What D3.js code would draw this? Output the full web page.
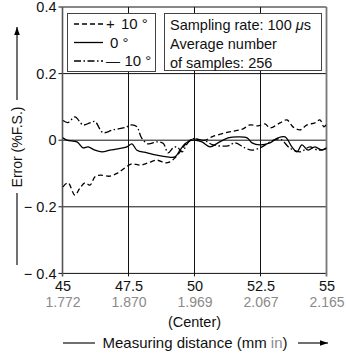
<!DOCTYPE html>
<html>
<head>
<meta charset="utf-8">
<script src="https://cdn.jsdelivr.net/npm/d3@7"></script>
<style>
  html, body { margin: 0; padding: 0; background: #fff; }
  svg { display: block; font-family: "Liberation Sans", Arial, sans-serif; }
</style>
</head>
<body>
<svg id="chart" width="346" height="354"></svg>
<script>
// x positions in mm, error in %F.S.
const xTicks = [45, 47.5, 50, 52.5, 55];
const xTickLabels = ["45", "47.5", "50", "52.5", "55"];
const xInchLabels = ["1.772", "1.870", "1.969", "2.067", "2.165"];
const yTicks = [0.4, 0.2, 0, -0.2, -0.4];
const yTickLabels = ["0.4", "0.2", "0", "\u2212 0.2", "\u2212 0.4"];

const plus10 = [
  [45.02, -0.14], [45.21, -0.128], [45.47, -0.165], [45.66, -0.144], [45.85, -0.128],
  [46.04, -0.135], [46.23, -0.11], [46.42, -0.105], [46.8, -0.108], [47.1, -0.098],
  [47.37, -0.083], [47.63, -0.071], [47.94, -0.075], [48.24, -0.068], [48.58, -0.06],
  [48.89, -0.068], [49.07, -0.065], [49.26, -0.053], [49.45, -0.035], [49.64, -0.014],
  [49.83, 0.0], [50.02, 0.004], [50.4, 0.0], [50.66, 0.01], [51.16, 0.022],
  [51.53, 0.028], [51.84, 0.034], [52.1, 0.046], [52.4, 0.043], [52.67, 0.049],
  [52.86, 0.037], [53.24, 0.052], [53.5, 0.061], [53.73, 0.04], [54.0, 0.031],
  [54.26, 0.046], [54.56, 0.052], [54.75, 0.061], [54.9, 0.04], [54.98, 0.046]
];
const zero = [
  [45.02, 0.007], [45.17, 0.0], [45.55, -0.005], [45.78, -0.023], [45.97, -0.02],
  [46.23, -0.03], [46.5, -0.035], [46.8, -0.03], [47.1, -0.026], [47.44, -0.02],
  [47.63, -0.011], [47.82, -0.03], [48.2, -0.038], [48.58, -0.045], [48.96, -0.05],
  [49.26, -0.05], [49.45, -0.03], [49.64, -0.011], [49.9, 0.0], [50.02, 0.0],
  [50.28, -0.005], [50.59, -0.02], [50.89, -0.008], [51.27, 0.007], [51.65, 0.01],
  [51.99, 0.007], [52.18, -0.008], [52.48, -0.014], [52.86, -0.008], [53.16, 0.007],
  [53.43, 0.01], [53.69, -0.02], [53.88, -0.035], [54.07, -0.014], [54.3, -0.03],
  [54.56, -0.02], [54.83, -0.03], [55.0, -0.023]
];
const minus10 = [
  [45.02, 0.059], [45.21, 0.053], [45.47, 0.07], [45.78, 0.046], [46.04, 0.052],
  [46.23, 0.056], [46.53, 0.023], [46.91, 0.031], [47.37, 0.038], [47.62, 0.046],
  [47.81, 0.041], [48.0, 0.006], [48.24, -0.011], [48.57, -0.005], [48.81, -0.009],
  [49.0, -0.038], [49.19, -0.023], [49.34, -0.02], [49.53, -0.035], [49.72, -0.011],
  [49.9, 0.004], [50.02, 0.004], [50.4, -0.002], [50.7, -0.014], [51.27, -0.017],
  [51.53, -0.008], [51.91, -0.023], [52.18, -0.03], [52.56, -0.02], [52.86, -0.005],
  [53.24, 0.004], [53.6, -0.023], [54.0, -0.035], [54.37, -0.02], [54.68, -0.03],
  [54.98, -0.026]
];

const series = [
  { sign: "+", name: "10 \u00b0", values: plus10, dash: "5,3" },
  { sign: "", name: "0 \u00b0", values: zero, dash: null },
  { sign: "\u2014", name: "10 \u00b0", values: minus10, dash: "7,2.5,1.5,2.5" }
];
const infoLines = ["Sampling rate: 100 ", "Average number", "of samples: 256"];

const svg = d3.select("#chart");
const x = d3.scaleLinear().domain([45, 55]).range([62.5, 326.5]);
const y = d3.scaleLinear().domain([-0.4, 0.4]).range([273.4, 7]);

svg.append("defs")
  .append("marker")
  .attr("id", "arrow")
  .attr("viewBox", "0 0 10 10")
  .attr("refX", 10).attr("refY", 5)
  .attr("markerWidth", 10).attr("markerHeight", 8)
  .attr("markerUnits", "userSpaceOnUse")
  .attr("orient", "auto")
  .append("path")
  .attr("d", "M0,1.5L10,5L0,8.5z")
  .attr("fill", "#000");

// grid
svg.append("g")
  .selectAll("line")
  .data(xTicks.slice(1, -1))
  .join("line")
  .attr("x1", (d) => x(d)).attr("x2", (d) => x(d))
  .attr("y1", y(0.4)).attr("y2", y(-0.4) + 3)
  .attr("stroke", "#111").attr("stroke-width", 1);
svg.append("g")
  .selectAll("line")
  .data(yTicks.slice(1, -1))
  .join("line")
  .attr("x1", x(45) - 4).attr("x2", x(55))
  .attr("y1", (d) => y(d)).attr("y2", (d) => y(d))
  .attr("stroke", "#111").attr("stroke-width", 1);

// frame
svg.append("line")
  .attr("x1", x(45) - 4).attr("x2", x(55))
  .attr("y1", y(0.4)).attr("y2", y(0.4))
  .attr("stroke", "#111");
svg.append("line")
  .attr("x1", x(45) - 4).attr("x2", x(55))
  .attr("y1", y(-0.4)).attr("y2", y(-0.4))
  .attr("stroke", "#111");
svg.append("line")
  .attr("x1", x(45)).attr("x2", x(45))
  .attr("y1", y(0.4)).attr("y2", y(-0.4) + 3)
  .attr("stroke", "#555").attr("stroke-width", 1.6);
svg.append("line")
  .attr("x1", x(55)).attr("x2", x(55))
  .attr("y1", y(0.4)).attr("y2", y(-0.4) + 3)
  .attr("stroke", "#777").attr("stroke-width", 1.8);

// y axis labels
const yAxis = d3.axisLeft(y)
  .tickValues(yTicks)
  .tickFormat((d, i) => yTickLabels[i])
  .tickSize(0)
  .tickPadding(6);
svg.append("g")
  .attr("transform", `translate(${x(45)},0)`)
  .call(yAxis)
  .call((g) => g.select(".domain").remove())
  .selectAll("text")
  .attr("font-size", 14.5)
  .attr("font-family", "Liberation Sans, Arial, sans-serif")
  .attr("fill", "#111");

// x axis labels
const xAxis = d3.axisBottom(x)
  .tickValues(xTicks)
  .tickFormat((d, i) => xTickLabels[i])
  .tickSize(0)
  .tickPadding(0);
const xg = svg.append("g")
  .attr("transform", `translate(0,${y(-0.4)})`)
  .call(xAxis)
  .call((g) => g.select(".domain").remove());
xg.selectAll(".tick text")
  .attr("y", 18)
  .attr("dy", null)
  .attr("font-size", 14.5)
  .attr("font-family", "Liberation Sans, Arial, sans-serif")
  .attr("fill", "#111");
xg.selectAll(".tick")
  .append("text")
  .attr("y", 34)
  .attr("text-anchor", "middle")
  .attr("font-size", 14)
  .attr("font-family", "Liberation Sans, Arial, sans-serif")
  .attr("fill", "#8a8a8a")
  .text((d, i) => xInchLabels[i]);

svg.append("text")
  .attr("x", x(50)).attr("y", 327)
  .attr("text-anchor", "middle")
  .attr("font-size", 14.5)
  .attr("fill", "#111")
  .text("(Center)");

const xTitle = svg.append("text")
  .attr("x", 195).attr("y", 348)
  .attr("text-anchor", "middle")
  .attr("font-size", 15)
  .attr("fill", "#111");
xTitle.append("tspan").text("Measuring distance (mm ");
xTitle.append("tspan").attr("fill", "#8a8a8a").text("in");
xTitle.append("tspan").text(")");
svg.append("line")
  .attr("x1", 63).attr("x2", 95).attr("y1", 343).attr("y2", 343)
  .attr("stroke", "#111").attr("stroke-width", 1.2);
svg.append("line")
  .attr("x1", 298).attr("x2", 328).attr("y1", 343).attr("y2", 343)
  .attr("stroke", "#111").attr("stroke-width", 1.2)
  .attr("marker-end", "url(#arrow)");

// y title
svg.append("text")
  .attr("transform", "translate(22,147) rotate(-90)")
  .attr("text-anchor", "middle")
  .attr("font-size", 14)
  .attr("fill", "#111")
  .text("Error (%F.S.)");
svg.append("line")
  .attr("x1", 17).attr("x2", 17).attr("y1", 100).attr("y2", 27)
  .attr("stroke", "#111").attr("stroke-width", 1.2)
  .attr("marker-end", "url(#arrow)");
svg.append("line")
  .attr("x1", 17).attr("x2", 17).attr("y1", 193).attr("y2", 265)
  .attr("stroke", "#111").attr("stroke-width", 1.2);

// data lines
const line = d3.line()
  .x((d) => x(d[0]))
  .y((d) => y(d[1]))
  .curve(d3.curveCatmullRom.alpha(0.5));
svg.append("g")
  .selectAll("path")
  .data(series)
  .join("path")
  .attr("d", (d) => line(d.values))
  .attr("fill", "none")
  .attr("stroke", "#000")
  .attr("stroke-width", 1.3)
  .attr("stroke-dasharray", (d) => d.dash);

// legend
const lg = svg.append("g");
lg.append("rect")
  .attr("x", 67.5).attr("y", 13.5).attr("width", 88).attr("height", 58)
  .attr("fill", "#fff").attr("stroke", "#444").attr("stroke-width", 1);
const rows = lg.selectAll("g.row")
  .data(series)
  .join("g")
  .attr("class", "row")
  .attr("transform", (d, i) => `translate(0,${24 + i * 18.5})`);
rows.append("line")
  .attr("x1", 74).attr("x2", 103)
  .attr("stroke", "#000").attr("stroke-width", 1.3)
  .attr("stroke-dasharray", (d) => d.dash);
rows.append("text")
  .attr("x", 106).attr("y", 5)
  .attr("font-size", (d) => (d.sign === "+" ? 15 : 14))
  .attr("fill", "#111")
  .text((d) => d.sign);
rows.append("text")
  .attr("x", (d) => (d.sign === "+" ? 121 : d.sign ? 124.5 : 110)).attr("y", 5)
  .attr("font-size", 15)
  .attr("fill", "#111")
  .text((d) => d.name);

const ib = svg.append("g");
ib.append("rect")
  .attr("x", 164.5).attr("y", 13.5).attr("width", 157).attr("height", 57)
  .attr("fill", "#fff").attr("stroke", "#444").attr("stroke-width", 1);
const it = ib.selectAll("text")
  .data(infoLines)
  .join("text")
  .attr("x", 170)
  .attr("y", (d, i) => 30 + i * 19)
  .attr("font-size", 14.5)
  .attr("fill", "#111")
  .text((d) => d);
it.filter((d, i) => i === 0)
  .append("tspan")
  .attr("font-style", "italic")
  .text("\u03bc");
it.filter((d, i) => i === 0)
  .append("tspan")
  .text("s");
</script>
</body>
</html>
